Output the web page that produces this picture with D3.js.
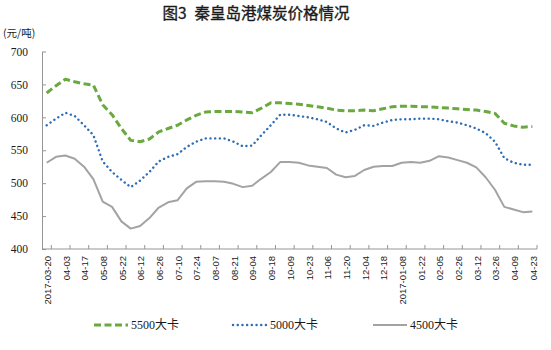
<!DOCTYPE html>
<html>
<head>
<meta charset="utf-8">
<script src="https://cdn.jsdelivr.net/npm/d3@7"></script>
<style>
  html, body { margin: 0; padding: 0; background: #fff; }
  svg { display: block; }
</style>
</head>
<body>
<svg id="chart" width="551" height="350"></svg>
<script>
// Weekly price points (元/吨); every other week carries a date label
const weeks = [
  "2017-03-20", "03-27", "04-03", "04-10", "04-17", "04-24", "05-08", "05-15",
  "05-22", "05-29", "06-12", "06-19", "06-26", "07-03", "07-10", "07-17",
  "07-24", "07-31", "08-07", "08-14", "08-21", "08-28", "09-04", "09-11",
  "09-18", "09-25", "10-09", "10-16", "10-23", "10-30", "11-06", "11-13",
  "11-20", "11-27", "12-04", "12-11", "12-18", "12-25", "2017-01-08", "01-15",
  "01-22", "01-29", "02-05", "02-12", "02-26", "03-05", "03-12", "03-19",
  "03-26", "04-02", "04-09", "04-16", "04-23"
];

const price5500 = [
  637, 648, 658, 654, 651, 649, 619, 604, 583, 565, 563, 567, 578, 583, 588, 596,
  603, 608, 609, 609, 609, 608, 607, 614, 622, 622, 621, 620, 618, 616, 614, 611,
  610, 610, 611, 610, 613, 616, 617, 617, 616, 616, 615, 614, 613, 612, 611, 609,
  606, 591, 587, 585, 586
];

const price5000 = [
  588, 598, 607, 602, 588, 573, 533, 517, 505, 494, 504, 517, 533, 540, 544, 555,
  563, 568, 568, 568, 563, 556, 557, 573, 588, 604, 604, 602, 600, 597, 593, 583,
  577, 581, 588, 587, 592, 596, 597, 597, 598, 598, 597, 594, 592, 588, 583, 576,
  563, 538, 531, 528, 528
];

const price4500 = [
  531, 540, 542, 537, 525, 506, 472, 464, 442, 431, 435, 447, 463, 471, 474, 492,
  502, 503, 503, 502, 499, 494, 496, 507, 517, 532, 532, 531, 527, 525, 523, 513,
  509, 511, 520, 525, 526, 526, 531, 532, 531, 534, 541, 539, 535, 531, 524, 509,
  490, 464, 460, 456, 457
];

const seriesNames = ["5500大卡", "5000大卡", "4500大卡"];
const yTicks = [400, 450, 500, 550, 600, 650, 700];

const titleLead = "图3";
const titleMain = "秦皇岛港煤炭价格情况";
const unitLabel = "(元/吨)";

const svg = d3.select("#chart");
const axisColor = "#959595";
const textColor = "#1a1a1a";
const numFont = "'Liberation Serif', 'Times New Roman', serif";
const cjkFont = "'Noto Sans CJK SC', 'Noto Sans', sans-serif";

const plot = { left: 42, right: 537, top: 51.5, bottom: 249 };

const x = d3.scaleBand().domain(d3.range(weeks.length)).range([plot.left, plot.right]);
const cx = i => x(i) + x.bandwidth() / 2;
const y = d3.scaleLinear().domain([400, 700]).range([plot.bottom, plot.top]);

// Title and unit
const titleText = svg.append("text")
  .attr("x", 256).attr("y", 19)
  .attr("text-anchor", "middle")
  .attr("font-family", cjkFont)
  .attr("font-size", 15.5)
  .attr("font-weight", "normal")
  .attr("stroke", textColor)
  .attr("stroke-width", 0.35)
  .attr("fill", textColor);
titleText.append("tspan").text(titleLead);
titleText.append("tspan").attr("dx", 8).text(titleMain);

svg.append("text")
  .attr("x", 3).attr("y", 37)
  .attr("font-family", cjkFont)
  .attr("font-size", 10.5)
  .attr("fill", textColor)
  .text(unitLabel);

// Y axis (ticks pointing into the plot)
const yAxis = d3.axisLeft(y)
  .tickValues(yTicks)
  .tickSizeInner(-4)
  .tickSizeOuter(0)
  .tickPadding(14);

const gy = svg.append("g")
  .attr("transform", `translate(${plot.left},0)`)
  .call(yAxis);
gy.select(".domain").attr("stroke", axisColor);
gy.selectAll(".tick line").attr("stroke", axisColor);
gy.selectAll(".tick text")
  .attr("font-family", numFont)
  .attr("font-size", 11.5)
  .attr("fill", textColor);

// X axis line
svg.append("line")
  .attr("x1", plot.left).attr("x2", plot.right)
  .attr("y1", plot.bottom).attr("y2", plot.bottom)
  .attr("stroke", axisColor);

const labelled = d3.range(0, weeks.length, 2);

// Tick marks at the right edge of each labelled week, pointing up
svg.append("g").selectAll("line")
  .data(labelled)
  .join("line")
  .attr("x1", i => x(i) + x.bandwidth())
  .attr("x2", i => x(i) + x.bandwidth())
  .attr("y1", plot.bottom).attr("y2", plot.bottom - 4)
  .attr("stroke", axisColor);

// Rotated date labels
svg.append("g").selectAll("text")
  .data(labelled)
  .join("text")
  .attr("transform", i => `translate(${cx(i) + 1},${plot.bottom + 7}) rotate(-90)`)
  .attr("dy", "0.35em")
  .attr("text-anchor", "end")
  .attr("font-family", "'Liberation Sans', Arial, sans-serif")
  .attr("font-size", 9.5)
  .attr("fill", textColor)
  .text(i => weeks[i]);

// Series styling
const series = [
  { name: seriesNames[0], values: price5500, color: "#6aa93f", width: 3, dash: "7,3.5", cap: "butt" },
  { name: seriesNames[1], values: price5000, color: "#2f6db5", width: 2.4, dash: "0.1,4.6", cap: "round" },
  { name: seriesNames[2], values: price4500, color: "#a3a3a3", width: 2, dash: null, cap: "butt" }
];

const line = d3.line()
  .x((d, i) => cx(i))
  .y(d => y(d));

series.slice().reverse().forEach(s => {
  svg.append("path")
    .datum(s.values)
    .attr("d", line)
    .attr("fill", "none")
    .attr("stroke", s.color)
    .attr("stroke-width", s.width)
    .attr("stroke-dasharray", s.dash)
    .attr("stroke-linecap", s.cap)
    .attr("stroke-linejoin", "round");
});

// Legend
const legendY = 325;
const legendX = [94, 233, 373];
const legend = svg.append("g");
series.forEach((s, k) => {
  const g = legend.append("g").attr("transform", `translate(${legendX[k]},${legendY})`);
  g.append("line")
    .attr("x1", 0).attr("x2", 34)
    .attr("y1", 0).attr("y2", 0)
    .attr("stroke", s.color)
    .attr("stroke-width", s.width)
    .attr("stroke-dasharray", s.dash)
    .attr("stroke-linecap", s.cap);
  g.append("text")
    .attr("x", 37).attr("y", 0)
    .attr("dy", "0.35em")
    .attr("font-family", "'Liberation Serif', 'Noto Sans CJK SC', serif")
    .attr("font-size", 12)
    .attr("fill", textColor)
    .text(s.name);
});
</script>
</body>
</html>
